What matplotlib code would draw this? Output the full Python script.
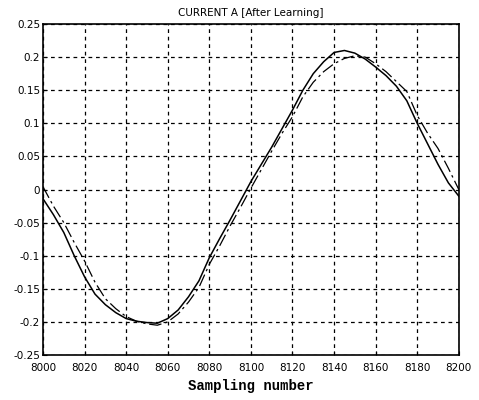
import matplotlib
matplotlib.use("Agg")
import matplotlib.pyplot as plt

samples = list(range(8000, 8201, 5))
actual = [-0.014, -0.038, -0.065, -0.100, -0.132, -0.158, -0.174, -0.186, -0.195, -0.199,
          -0.201, -0.202, -0.195, -0.182, -0.162, -0.138, -0.103, -0.074, -0.046, -0.017,
          0.012, 0.038, 0.064, 0.092, 0.120, 0.150, 0.175, 0.193, 0.207, 0.210,
          0.206, 0.197, 0.185, 0.172, 0.156, 0.134, 0.100, 0.069, 0.038, 0.010, -0.010]
reference = [0.004, -0.025, -0.050, -0.080, -0.108, -0.140, -0.165, -0.180, -0.192, -0.199,
             -0.203, -0.205, -0.200, -0.188, -0.170, -0.148, -0.113, -0.085, -0.055, -0.027,
             0.002, 0.030, 0.058, 0.085, 0.110, 0.140, 0.162, 0.178, 0.190, 0.198,
             0.202, 0.200, 0.190, 0.178, 0.163, 0.148, 0.112, 0.085, 0.062, 0.032, 0.000]

xticks = [8000, 8020, 8040, 8060, 8080, 8100, 8120, 8140, 8160, 8180, 8200]
yticks = [-0.25, -0.2, -0.15, -0.1, -0.05, 0, 0.05, 0.1, 0.15, 0.2, 0.25]
ytick_labels = ["-0.25", "-0.2", "-0.15", "-0.1", "-0.05", "0", "0.05", "0.1", "0.15", "0.2", "0.25"]

fig = plt.figure(figsize=(4.79, 4.00), dpi=100)
ax = fig.add_axes([0.0898, 0.1125, 0.868, 0.8275])
ax.plot(samples, actual, color="black", lw=1.1, linestyle="-")
ax.plot(samples, reference, color="black", lw=0.9, linestyle=(0, (10, 3, 2, 3)))
ax.set_xlim(8000, 8200)
ax.set_ylim(-0.25, 0.25)
ax.set_xticks(xticks)
ax.set_xticklabels([str(t) for t in xticks])
ax.set_yticks(yticks)
ax.set_yticklabels(ytick_labels)
ax.grid(True, color="black", linestyle=(0, (3, 3)), linewidth=0.9)
ax.tick_params(direction="in", length=3, labelsize=7.5)
ax.tick_params(axis="x", pad=6)
ax.tick_params(axis="y", pad=2)
for s in ax.spines.values():
    s.set_linewidth(1.2)
ax.set_title("CURRENT A [After Learning]", fontsize=7.5, pad=6)
ax.set_xlabel("Sampling number", fontsize=10, fontweight="bold", family="Liberation Mono", labelpad=4)
fig.savefig("out.png", dpi=100)
